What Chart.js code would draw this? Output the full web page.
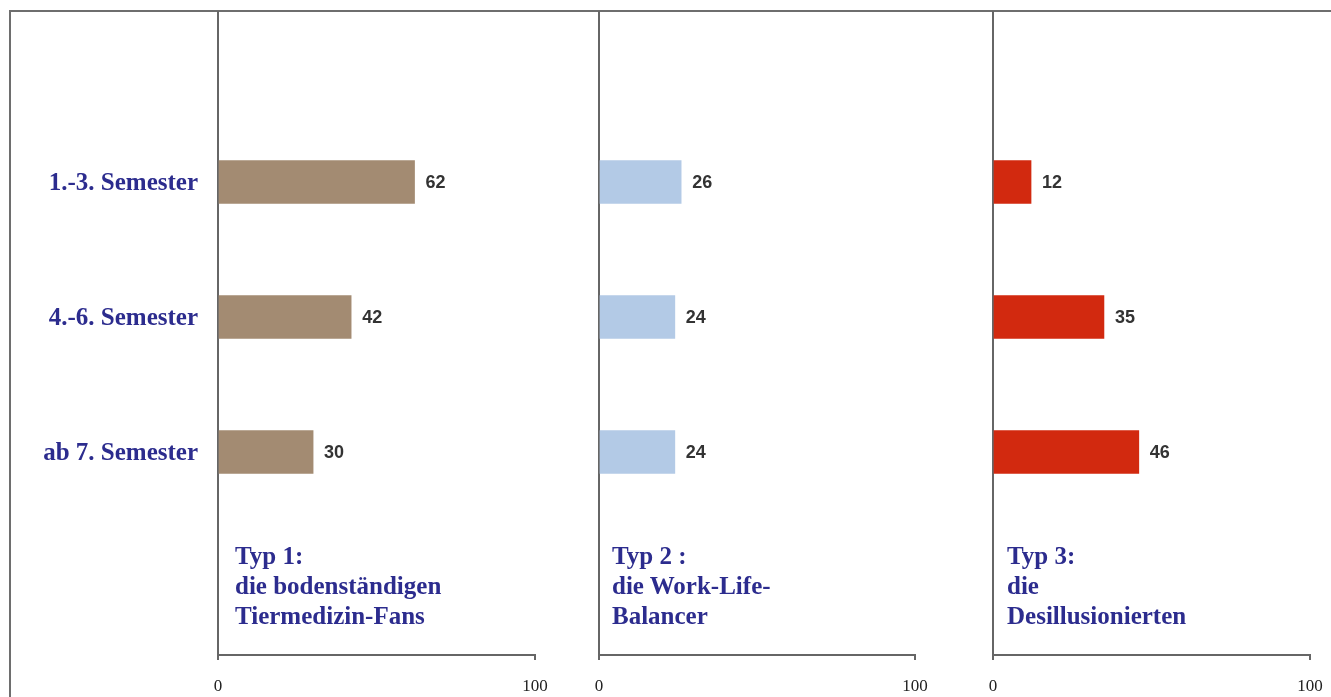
<!DOCTYPE html>
<html>
<head>
<meta charset="utf-8">
<script src="https://cdn.jsdelivr.net/npm/chart.js@4"></script>
<style>
  html, body { margin: 0; padding: 0; background: #fff; }
  #stage { position: relative; width: 1331px; height: 697px; overflow: hidden; }
  #frame { position: absolute; left: 9px; top: 10px; width: 1330px; height: 700px;
           border-top: 2px solid #6e6e6e; border-left: 2px solid #6e6e6e; }
  .panel { position: absolute; top: 0; }
  .typ { position: absolute; top: 541px; font: bold 25px "Liberation Serif", "DejaVu Serif", serif;
         line-height: 30px; color: #2c2c8e; white-space: nowrap; }
</style>
</head>
<body>
<div id="stage">
  <div id="frame"></div>
</div>
<script>
// ── Data ──
const semesters = ['1.-3. Semester', '4.-6. Semester', 'ab 7. Semester'];
const typ1 = [62, 42, 30];
const typ2 = [26, 24, 24];
const typ3 = [12, 35, 46];
const xTicks = [0, 100];
const typTitles = [
  ['Typ 1:', 'die bodenständigen', 'Tiermedizin-Fans'],
  ['Typ 2 :', 'die Work-Life-', 'Balancer'],
  ['Typ 3:', 'die', 'Desillusionierten']
];

// ── Panel layout ──
const panels = [
  { values: typ1, color: '#a38b72', left: 0,   width: 560, axisW: 218, padRight: 25, labels: true,  textX: 235 },
  { values: typ2, color: '#b3cae6', left: 560, width: 380, axisW: 39,  padRight: 25, labels: false, textX: 612 },
  { values: typ3, color: '#d2290f', left: 940, width: 391, axisW: 53,  padRight: 21, labels: false, textX: 1007 }
];

const stage = document.getElementById('stage');

// value labels next to bar ends
const barValues = {
  id: 'barValues',
  afterDatasetsDraw(chart) {
    const ctx = chart.ctx;
    ctx.save();
    ctx.font = 'bold 18px "Liberation Sans", Arial, sans-serif';
    ctx.fillStyle = '#333';
    ctx.textBaseline = 'middle';
    chart.getDatasetMeta(0).data.forEach((bar, i) => {
      ctx.fillText(String(chart.data.datasets[0].data[i].x), bar.x + 11, bar.y + 1);
    });
    ctx.restore();
  }
};

panels.forEach((p, idx) => {
  const wrap = document.createElement('div');
  wrap.className = 'panel';
  wrap.style.left = p.left + 'px';
  wrap.style.width = p.width + 'px';
  wrap.style.height = '697px';
  const cv = document.createElement('canvas');
  cv.width = p.width;
  cv.height = 697;
  wrap.appendChild(cv);
  stage.appendChild(wrap);

  new Chart(cv, {
    type: 'bar',
    data: {
      datasets: [{
        data: p.values.map((v, i) => ({ x: v, y: i + 1 })),
        backgroundColor: p.color,
        barThickness: 43,
        borderWidth: 0
      }]
    },
    options: {
      indexAxis: 'y',
      responsive: false,
      animation: false,
      layout: { padding: { top: 12, right: p.padRight, left: 0, bottom: 0 } },
      plugins: { legend: { display: false }, tooltip: { enabled: false } },
      scales: {
        x: {
          type: 'linear', min: 0, max: 100,
          afterBuildTicks: s => { s.ticks = xTicks.map(v => ({ value: v })); },
          afterFit: s => { s.height = 42; s.paddingLeft = 0; s.paddingRight = 0; },
          grid: { drawOnChartArea: false, drawTicks: true, tickLength: 5, color: '#666', lineWidth: 2 },
          border: { display: true, color: '#666', width: 2 },
          ticks: { padding: 16, color: '#222', maxRotation: 0,
                   font: { family: '"Liberation Serif", serif', size: 17 } }
        },
        y: {
          type: 'linear', min: -0.259, max: 4.504, reverse: true, offset: false,
          afterBuildTicks: s => { s.ticks = semesters.map((_, i) => ({ value: i + 1 })); },
          afterFit: s => { s.width = p.axisW; s.paddingTop = 0; s.paddingBottom = 0; },
          grid: { display: false, drawTicks: false, offset: false },
          border: { display: true, color: '#666', width: 2 },
          ticks: {
            display: p.labels,
            padding: 20,
            labelOffset: 2,
            color: '#2c2c8e',
            font: { family: '"Liberation Serif", serif', size: 25, weight: 'bold' },
            callback: v => semesters[v - 1]
          }
        }
      }
    },
    plugins: [barValues]
  });

  const t = document.createElement('div');
  t.className = 'typ';
  t.style.left = p.textX + 'px';
  t.innerHTML = typTitles[idx].join('<br>');
  stage.appendChild(t);
});
</script>
</body>
</html>
